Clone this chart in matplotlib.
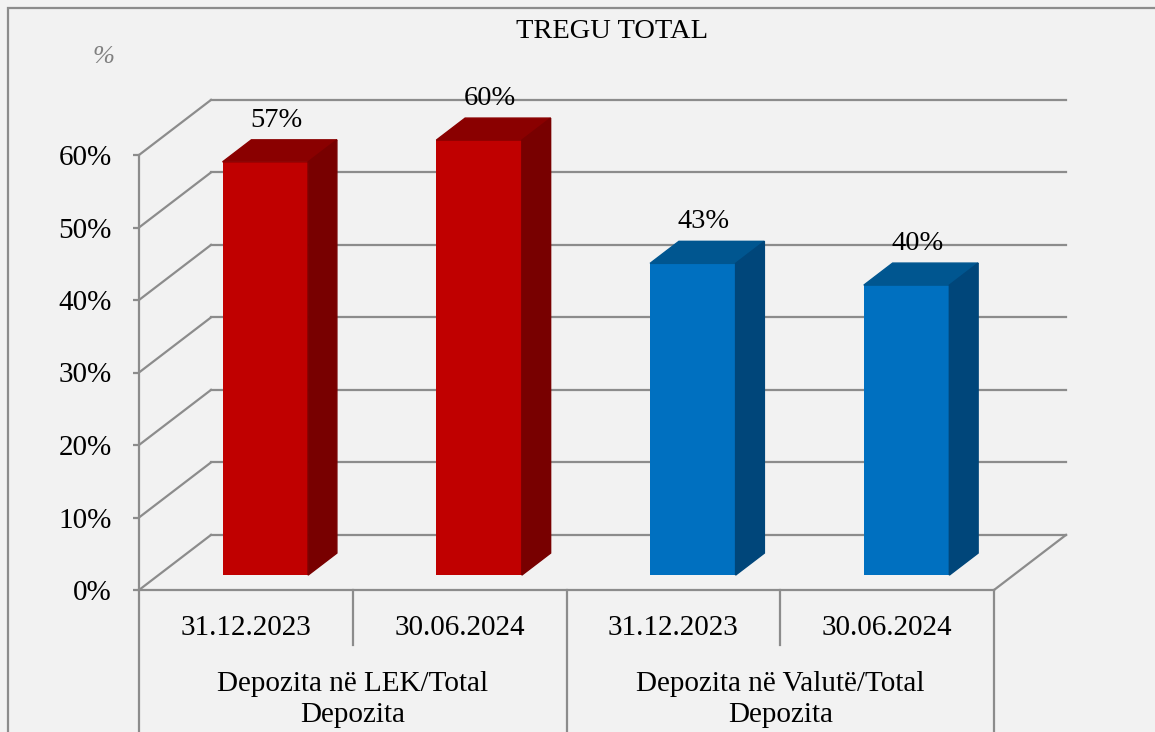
"""Tregu total: depozita në LEK dhe në valutë si pjesë e totalit (stil 3D)."""
import matplotlib
matplotlib.use("Agg")
import matplotlib.pyplot as plt
from matplotlib.patches import Polygon, Rectangle

grupet = ["Depozita në LEK/Total\nDepozita", "Depozita në Valutë/Total\nDepozita"]
datat = ["31.12.2023", "30.06.2024", "31.12.2023", "30.06.2024"]
vlerat = [57, 60, 43, 40]
ngjyra_para = ["#c00000", "#c00000", "#0070c0", "#0070c0"]
ngjyra_siper = ["#8a0000", "#8a0000", "#005690", "#005690"]
ngjyra_anash = ["#780000", "#780000", "#00467a", "#00467a"]
tiket_y = [0, 10, 20, 30, 40, 50, 60]

# perspektiva: zhvendosja e murit të pasmë (njësi kategorie, pikë përqindjeje)
DX, DY = 0.337, 7.6
D0, D1 = 0.27, 0.67   # thellësia e faqes para/pas të shtyllave
BW = 0.40
GRI = "#8c8c8c"
FS = 21

plt.rcParams["font.family"] = ["Liberation Serif", "DejaVu Serif"]

W, H = 1155, 732
fig = plt.figure(figsize=(W / 100, H / 100), dpi=100, facecolor="#f2f2f2")
ax = fig.add_axes([139 / W, 1 - 590 / H, (994 - 139) / W, (590 - 155) / H])
ax.set_facecolor("none")
ax.set_xlim(0, len(vlerat))
ax.set_ylim(0, 60)


def proj(x, y, d):
    return x + d * DX, y + d * DY


n = len(vlerat)
# muri i pasmë dhe ai anësor
for v in tiket_y:
    xa, ya = proj(0, v, 1)
    xb, yb = proj(n, v, 1)
    ax.plot([xa, xb], [ya, yb], color=GRI, lw=1.6, clip_on=False, zorder=1)
    ax.plot([0, xa], [v, ya], color=GRI, lw=1.6, clip_on=False, zorder=1)
xr, yr = proj(n, 0, 1)
ax.plot([n, xr], [0, yr], color=GRI, lw=1.6, clip_on=False, zorder=1)

# shtyllat
for i, v in enumerate(vlerat):
    x0 = i + 0.5 - BW / 2
    ax.bar(x0 + D0 * DX, v, width=BW, bottom=D0 * DY, align="edge",
           color=ngjyra_para[i], zorder=3, clip_on=False)
    siper = [proj(x0, v, D0), proj(x0 + BW, v, D0),
             proj(x0 + BW, v, D1), proj(x0, v, D1)]
    anash = [proj(x0 + BW, 0, D0), proj(x0 + BW, 0, D1),
             proj(x0 + BW, v, D1), proj(x0 + BW, v, D0)]
    ax.add_patch(Polygon(siper, closed=True, color=ngjyra_siper[i], zorder=3, clip_on=False))
    ax.add_patch(Polygon(anash, closed=True, color=ngjyra_anash[i], zorder=3, clip_on=False))
    lx, ly = proj(i + 0.55, v, D1)
    ax.text(lx - D1 * DX + D0 * DX, ly + 1.0, f"{v}%", ha="center", va="bottom",
            fontsize=20.5, zorder=4)

# boshtet
for s in ["top", "right"]:
    ax.spines[s].set_visible(False)
for s in ["left", "bottom"]:
    ax.spines[s].set_color(GRI)
    ax.spines[s].set_linewidth(1.6)
    ax.spines[s].set_zorder(2)
ax.set_yticks(tiket_y)
ax.set_yticklabels([f"{t}%" for t in tiket_y])
ax.tick_params(axis="y", length=4.5, width=1.6, color=GRI, pad=15, labelsize=FS)
ax.set_xticks([])

# ndarësit e kategorive poshtë boshtit
for k in range(n + 1):
    fund = -20 if k % 2 == 0 else -7.6
    ax.plot([k, k], [0, fund], color=GRI, lw=1.6, clip_on=False)
for i, d in enumerate(datat):
    ax.text(i + 0.5, -5.2, d, ha="center", va="center", fontsize=FS)
for g, emri in enumerate(grupet):
    ax.text(2 * g + 1, -15.1, emri, ha="center", va="center", fontsize=FS,
            linespacing=1.28)

fig.text(612 / W, 1 - 32 / H, "TREGU TOTAL", ha="center", va="center", fontsize=20.5)
fig.text(103 / W, 1 - 57 / H, "%", ha="center", va="center", fontsize=19,
         style="italic", color="#808080")
fig.add_artist(Rectangle((8 / W, -0.1), 1.2, 1.1 - 8 / H, transform=fig.transFigure,
                         fill=False, edgecolor=GRI, lw=1.6))

fig.savefig("out.png", dpi=100, facecolor=fig.get_facecolor())
